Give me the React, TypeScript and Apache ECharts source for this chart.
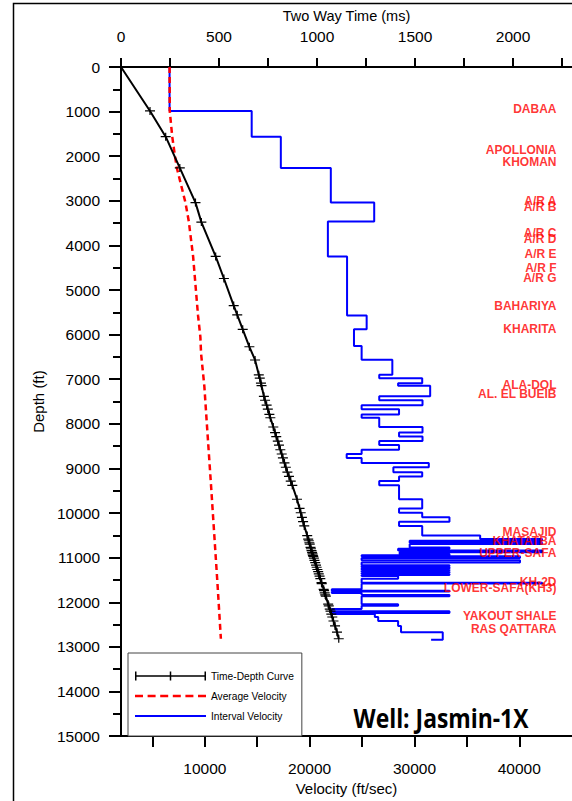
import React, { useEffect, useRef } from "react";
import * as echarts from "echarts";

// ---- Axis ticks / labels ----
const timeTickValues = [0, 250, 500, 750, 1000, 1250, 1500, 1750, 2000, 2250];
const timeLabelValues = [0, 500, 1000, 1500, 2000];
const velTickValues = [5000, 10000, 15000, 20000, 25000, 30000, 35000, 40000];
const velLabelValues = [10000, 20000, 30000, 40000];

// ---- Time-Depth curve (time ms, depth ft) ----
const tdTime = [0, 148, 228, 300, 380, 410, 483, 525, 575, 593, 621, 655, 684, 703, 708, 714, 717, 729, 735, 743, 749, 757, 762, 777, 786, 792, 800, 806, 813, 820, 826, 834, 841, 849, 857, 866, 874, 898, 911, 917, 923, 929, 935, 950, 955, 958, 961, 963, 967, 969, 972, 975, 977, 979, 981, 984, 987, 991, 995, 998, 1002, 1006, 1009, 1013, 1017, 1023, 1024, 1034, 1036, 1039, 1042, 1045, 1057, 1060, 1065, 1069, 1073, 1078, 1084, 1092, 1102, 1111];
const tdDepth = [0, 985, 1562, 2263, 3040, 3477, 4247, 4742, 5348, 5556, 5880, 6272, 6568, 6900, 6975, 7087, 7145, 7382, 7471, 7582, 7671, 7788, 7863, 8070, 8196, 8285, 8387, 8476, 8580, 8676, 8764, 8875, 8973, 9084, 9179, 9283, 9379, 9690, 9896, 9993, 10095, 10193, 10288, 10504, 10584, 10621, 10666, 10695, 10770, 10800, 10840, 10880, 10917, 10948, 10970, 11010, 11060, 11110, 11169, 11215, 11265, 11315, 11365, 11413, 11471, 11560, 11580, 11709, 11740, 11790, 11835, 11864, 12042, 12079, 12153, 12200, 12264, 12330, 12420, 12530, 12670, 12818];

// ---- Average velocity (ft/sec, depth ft) ----
const avVel = [6635, 6650, 6890, 7140, 7330, 8150, 8470, 8880, 9350, 9573, 9640, 9953, 10270, 10590, 10900, 11210, 11530];
const avDepth = [0, 985, 1562, 1983, 2263, 3040, 3462, 4247, 5570, 6050, 6421, 7160, 8270, 9379, 10488, 11598, 12818];

// ---- Interval velocity (layer top depth ft, velocity ft/sec) ----
const ivDepth = [0, 985, 1562, 2263, 3040, 3462, 4247, 5570, 5880, 6257, 6565, 6900, 6975, 7087, 7145, 7382, 7471, 7582, 7671, 7788, 7863, 8070, 8196, 8285, 8387, 8476, 8580, 8676, 8764, 8875, 8973, 9084, 9179, 9283, 9379, 9690, 9896, 9993, 10095, 10193, 10288, 10504, 10584, 10621, 10666, 10695, 10770, 10800, 10840, 10880, 10917, 10948, 10970, 11010, 11060, 11110, 11169, 11190, 11215, 11240, 11265, 11290, 11315, 11340, 11365, 11390, 11413, 11471, 11560, 11580, 11709, 11740, 11760, 11790, 11835, 11864, 12042, 12079, 12153, 12200, 12240, 12264, 12330, 12420, 12530, 12670, 12840];
const ivVel = [6635, 14470, 17250, 22020, 26160, 21740, 23570, 25440, 24230, 24960, 27890, 26640, 30740, 28440, 31500, 26640, 30770, 24960, 28530, 24960, 26640, 30770, 28530, 30770, 26640, 28530, 24960, 23535, 24960, 31370, 27990, 30740, 28530, 26640, 28530, 30740, 28530, 30740, 33340, 28530, 30740, 36270, 42180, 29545, 42180, 29545, 33340, 28440, 42180, 28590, 33340, 24960, 40070, 24960, 40070, 24960, 33340, 24960, 33340, 24960, 33340, 24960, 33340, 24960, 33340, 24960, 28440, 24960, 42180, 24960, 22115, 33340, 22115, 24960, 33340, 24960, 28440, 24960, 22115, 33340, 22115, 26220, 26540, 28440, 28720, 32700, 31590];

// ---- Formation tops ----
const formationNames = ["DABAA", "APOLLONIA", "KHOMAN", "A/R A", "A/R B", "A/R C", "A/R D", "A/R E", "A/R F", "A/R G", "BAHARIYA", "KHARITA", "ALA-DOL", "AL. EL BUEIB", "MASAJID", "KHATATBA", "UPPER-SAFA", "KH-2D", "LOWER-SAFA(KH3)", "YAKOUT SHALE", "RAS QATTARA"];
const formationDepths = [950, 1870, 2120, 3000, 3130, 3720, 3850, 4200, 4500, 4720, 5350, 5870, 7120, 7320, 10430, 10620, 10890, 11540, 11690, 12300, 12600];

const FONT = "Liberation Sans, Arial, sans-serif";
const plain = (v: number) => String(v);

const ICON_TD = "path://M0,4.25h71v1.5h-71z M0,0.5h1.5v9h-1.5z M34.75,0.5h1.5v9h-1.5z M69.5,0.5h1.5v9h-1.5z";
const ICON_AV = "path://M0,0h8v2.5h-8z M12.6,0h8v2.5h-8z M25.2,0h8v2.5h-8z M37.8,0h8v2.5h-8z M50.4,0h8v2.5h-8z M63,0h8v2.5h-8z";
const ICON_IV = "path://M0,0h71v2.2h-71z";

export default function App() {
  const ref = useRef<HTMLDivElement>(null);
  useEffect(() => {
    const chart = echarts.init(ref.current!, null, { renderer: "svg" });
    const labelVel = 43600;
    const option: any = {
      animation: false,
      backgroundColor: "#fff",
      textStyle: { fontFamily: FONT, color: "#000" },
      grid: { left: 121, top: 67, right: -3, bottom: 56, containLabel: false },
      legend: {
        orient: "vertical",
        left: 128,
        top: 653,
        padding: [18, 8, 15, 7],
        itemWidth: 71,
        itemHeight: 12,
        itemGap: 10,
        symbolKeepAspect: true,
        borderColor: "#444",
        borderWidth: 1,
        backgroundColor: "#fff",
        data: [
          { name: "Time-Depth Curve", icon: ICON_TD },
          { name: "Average Velocity", icon: ICON_AV },
          { name: "Interval Velocity", icon: ICON_IV },
        ],
        textStyle: { fontFamily: FONT, fontSize: 10.2, color: "#000" },
      },
      xAxis: [
        {
          type: "value",
          position: "top",
          min: 0,
          max: 2301,
          name: "Two Way Time (ms)",
          nameLocation: "middle",
          nameGap: 44,
          nameTextStyle: { fontSize: 14.5, color: "#000", fontFamily: FONT },
          axisLine: { show: true, onZero: false, lineStyle: { color: "#000", width: 2 } },
          axisTick: { show: true, customValues: timeTickValues, length: 9, lineStyle: { color: "#000", width: 2 } },
          axisLabel: { customValues: timeLabelValues, formatter: plain, margin: 23, fontSize: 15.5, color: "#000", fontFamily: FONT },
          splitLine: { show: false },
        },
        {
          type: "value",
          position: "bottom",
          min: 2000,
          max: 45033,
          name: "Velocity (ft/sec)",
          nameLocation: "middle",
          nameGap: 44,
          nameTextStyle: { fontSize: 15, color: "#000", fontFamily: FONT },
          axisLine: { show: true, onZero: false, lineStyle: { color: "#000", width: 2 } },
          axisTick: { show: true, customValues: velTickValues, length: 11, lineStyle: { color: "#000", width: 2 } },
          axisLabel: { customValues: velLabelValues, formatter: plain, margin: 24, fontSize: 15.5, color: "#000", fontFamily: FONT },
          splitLine: { show: false },
        },
      ],
      yAxis: {
        type: "value",
        inverse: true,
        min: 0,
        max: 15000,
        interval: 1000,
        name: "Depth (ft)",
        nameLocation: "middle",
        nameGap: 66,
        nameRotate: 90,
        nameTextStyle: { fontSize: 15, color: "#000", fontFamily: FONT },
        axisLine: { show: true, onZero: false, lineStyle: { color: "#000", width: 2 } },
        axisTick: { show: true, length: 12, lineStyle: { color: "#000", width: 2 } },
        minorTick: { show: true, splitNumber: 2, length: 8, lineStyle: { color: "#000", width: 2 } },
        axisLabel: { formatter: plain, margin: 21, fontSize: 15.5, color: "#000", fontFamily: FONT },
        splitLine: { show: false },
        minorSplitLine: { show: false },
      },
      series: [
        {
          name: "Interval Velocity",
          type: "line",
          xAxisIndex: 1,
          yAxisIndex: 0,
          step: "start",
          symbol: "none",
          color: "#0000ff",
          lineStyle: { color: "#0000ff", width: 2 },
          data: ivDepth.map((d, i) => [ivVel[i], d]),
          z: 3,
        },
        {
          name: "Average Velocity",
          type: "line",
          xAxisIndex: 1,
          yAxisIndex: 0,
          symbol: "none",
          color: "#ff0000",
          lineStyle: { color: "#ff0000", width: 2.5, type: [6, 4] },
          data: avDepth.map((d, i) => [avVel[i], d]),
          z: 4,
        },
        {
          name: "Time-Depth Curve",
          type: "line",
          xAxisIndex: 0,
          yAxisIndex: 0,
          symbol: "path://M-5,-0.6L5,-0.6L5,0.6L-5,0.6Z M-0.6,-4L0.6,-4L0.6,4L-0.6,4Z",
          symbolSize: [10, 8],
          symbolKeepAspect: false,
          color: "#000",
          itemStyle: { color: "#000" },
          lineStyle: { color: "#000", width: 2 },
          data: tdDepth.map((d, i) => [tdTime[i], d]),
          z: 5,
        },
        {
          name: "Formations",
          type: "scatter",
          xAxisIndex: 1,
          yAxisIndex: 0,
          symbolSize: 1,
          silent: true,
          itemStyle: { color: "rgba(0,0,0,0)" },
          label: {
            show: true,
            position: "left",
            distance: 0,
            formatter: "{b}",
            color: "#ff0000",
            fontWeight: "bold",
            fontSize: 12,
            fontFamily: FONT,
          },
          data: formationDepths.map((d, i) => ({ name: formationNames[i], value: [labelVel, d] })),
          z: 6,
        },
      ],
      graphic: [
        {
          type: "rect",
          silent: true,
          z: -10,
          shape: { x: 13.5, y: 3.5, width: 700, height: 900 },
          style: { fill: "none", stroke: "#000", lineWidth: 1.5 },
        },
        {
          type: "text",
          x: 441,
          y: 718,
          scaleX: 0.88,
          z: 10,
          style: {
            text: "Well: Jasmin-1X",
            fill: "#000",
            fontFamily: "Open Sans, Liberation Sans, sans-serif",
            fontWeight: "bold",
            fontSize: 26,
            align: "center",
            verticalAlign: "middle",
            textAlign: "center",
            textVerticalAlign: "middle",
          },
        },
      ],
    };
    chart.setOption(option);
    return () => chart.dispose();
  }, []);
  return <div ref={ref} style={{ position: "fixed", left: 0, top: 0, width: 572, height: 801 }} />;
}
